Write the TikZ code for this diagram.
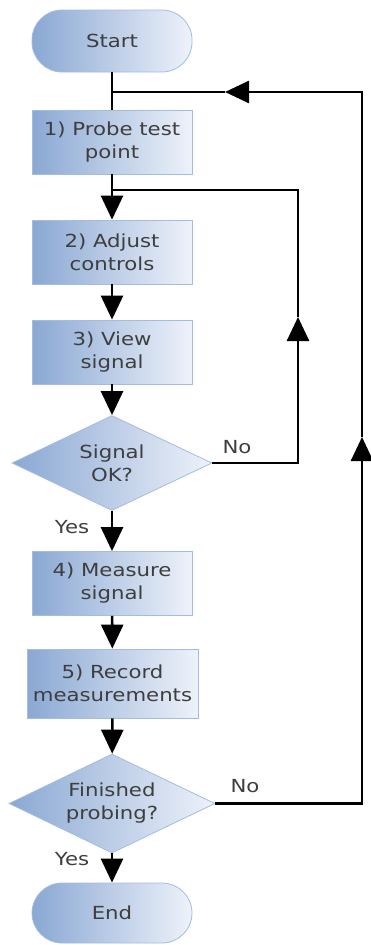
\documentclass[tikz,border=0pt]{standalone}
\usepackage{fontspec}
\usepackage{xcolor}
\usetikzlibrary{arrows.meta,shapes.geometric}
\newfontfamily\flowfont[FakeStretch=1.18]{DejaVu Sans}
\definecolor{boxdark}{HTML}{8AA8D3}
\definecolor{boxlight}{HTML}{EEF2FA}
\definecolor{boxedge}{HTML}{A3BCE0}
\definecolor{boxtext}{HTML}{3E3E3E}
\tikzset{
    stepbox/.style={rectangle, draw=boxedge, line width=0.8pt,
        left color=boxdark, right color=boxlight,
        minimum width=160pt, minimum height=64pt, inner sep=0pt,
        align=center, text=boxtext, font=\flowfont\fontsize{18}{23}\selectfont},
    termbox/.style={stepbox, rounded corners=30pt, minimum height=62pt},
    testbox/.style={stepbox, diamond, aspect=2.2, minimum width=200pt, minimum height=95pt},
    link/.style={line width=2.6pt},
    flow/.style={link, -{Triangle[width=22pt,length=24pt]}},
    answer/.style={text=boxtext, font=\flowfont\fontsize{18}{22}\selectfont}
}
\begin{document}
\begin{tikzpicture}[x=1pt,y=-1pt]

            \useasboundingbox (0,0) rectangle (371,945);

            % steps
            \node[termbox] (start) at (112,41) {Start};
            \node[stepbox] (probe) at (112,142) {1) Probe test\\point};
            \node[stepbox] (adjust) at (112,252) {2) Adjust\\controls};
            \node[stepbox] (view) at (112,352) {3) View\\signal};
            \node[testbox] (sigok) at (112,463) {Signal\\OK?};
            \node[stepbox] (measure) at (112,583.5) {4) Measure\\signal};
            \node[stepbox, minimum width=171pt, minimum height=69pt] (record) at (112.5,683.5) {5) Record\\measurements};
            \node[testbox, minimum width=206pt, minimum height=99pt] (done) at (112,803.5) {Finished\\probing?};
            \node[termbox, minimum height=60pt] (end) at (112,913) {End};

            % answers
            \node[answer] (no1) at (237,447) {No};
            \node[answer] (yes1) at (72,527) {Yes};
            \node[answer] (no2) at (245,786) {No};
            \node[answer] (yes2) at (72,859) {Yes};

            % loop points
            \coordinate (toploop) at (112,92);
            \coordinate (innerloop) at (112,190);
            \coordinate (innerup) at (298,317);
            \coordinate (outerup) at (362,437);
            \coordinate (backtip) at (225,92);

            \draw[link] (start) -- (probe);
            \draw[flow] (probe) -- (adjust);
            \draw[flow] (adjust) -- (view);
            \draw[flow] (view) -- (sigok);
            \draw[flow] (sigok) -- (measure);
            \draw[flow] (measure) -- (record);
            \draw[flow] (record) -- (done);
            \draw[flow] (done) -- (end);

            \draw[flow] (sigok.east) -| (innerup);
            \draw[link] (innerup) |- (innerloop);
            \draw[flow] (done.east) -| (outerup);
            \draw[flow] (outerup) |- (backtip);
            \draw[link] (backtip) -- (toploop);
        \end{tikzpicture}
\end{document}
